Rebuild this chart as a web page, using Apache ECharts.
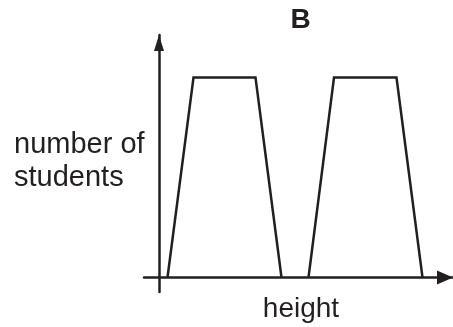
<!DOCTYPE html>
<html>
<head>
<meta charset="utf-8">
<script src="https://cdn.jsdelivr.net/npm/echarts@6/dist/echarts.min.js"></script>
<style>
  html, body { margin: 0; padding: 0; background: #fff; }
  #chart { width: 453px; height: 327px; }
</style>
</head>
<body>
<div id="chart"></div>
<script>
// two flat-topped groups of students (units ~ pixels)
const heightsA = [8.5, 34.5, 96.5, 122.5];
const studentsA = [0, 200, 200, 0];
const heightsB = [149.5, 175, 237.5, 263.5];
const studentsB = [0, 200, 200, 0];

const titleText = 'B';
const xName = 'height';
const yName = 'number of\nstudents';

const ink = '#231f20';
const font = 'Liberation Sans, Arial, sans-serif';

function pairs(xs, ys) {
    return xs.map(function (x, i) { return [x, ys[i]]; });
}

function trapezoid(xs, ys) {
    return {
        type: 'line',
        data: pairs(xs, ys),
        symbol: 'none',
        silent: true,
        lineStyle: { color: ink, width: 2.5, join: 'miter', cap: 'butt' }
    };
}

const chart = echarts.init(document.getElementById('chart'), null, { renderer: 'canvas' });

chart.setOption({
    animation: false,
    backgroundColor: '#fff',
    grid: { left: 144, right: 0, top: 35, bottom: 35, outerBoundsMode: 'none' },
    xAxis: {
        type: 'value',
        min: -15,
        max: 294,
        axisLine: {
            onZero: true,
            symbol: ['none', 'triangle'],
            symbolSize: [14, 16],
            symbolOffset: [0, -8],
            lineStyle: { color: ink, width: 2.5 }
        },
        axisTick: { show: false },
        axisLabel: { show: false },
        splitLine: { show: false }
    },
    yAxis: {
        type: 'value',
        min: -14.5,
        max: 242.5,
        axisLine: {
            onZero: true,
            symbol: ['none', 'triangle'],
            symbolSize: [10, 16],
            symbolOffset: [0, -8],
            lineStyle: { color: ink, width: 2.5 }
        },
        axisTick: { show: false },
        axisLabel: { show: false },
        splitLine: { show: false }
    },
    series: [
        trapezoid(heightsA, studentsA),
        trapezoid(heightsB, studentsB)
    ],
    graphic: [
        {
            type: 'text',
            x: 300.5, y: 20,
            style: {
                text: titleText, fill: ink, fontFamily: font,
                fontSize: 28, fontWeight: 'bold',
                align: 'center', verticalAlign: 'middle'
            }
        },
        {
            type: 'text',
            x: 301, y: 309,
            style: {
                text: xName, fill: ink, fontFamily: font,
                fontSize: 28, align: 'center', verticalAlign: 'middle'
            }
        },
        {
            type: 'text',
            x: 14, y: 128,
            style: {
                text: yName, fill: ink, fontFamily: font,
                fontSize: 29, lineHeight: 33,
                align: 'left', verticalAlign: 'top'
            }
        }
    ]
});
</script>
</body>
</html>
